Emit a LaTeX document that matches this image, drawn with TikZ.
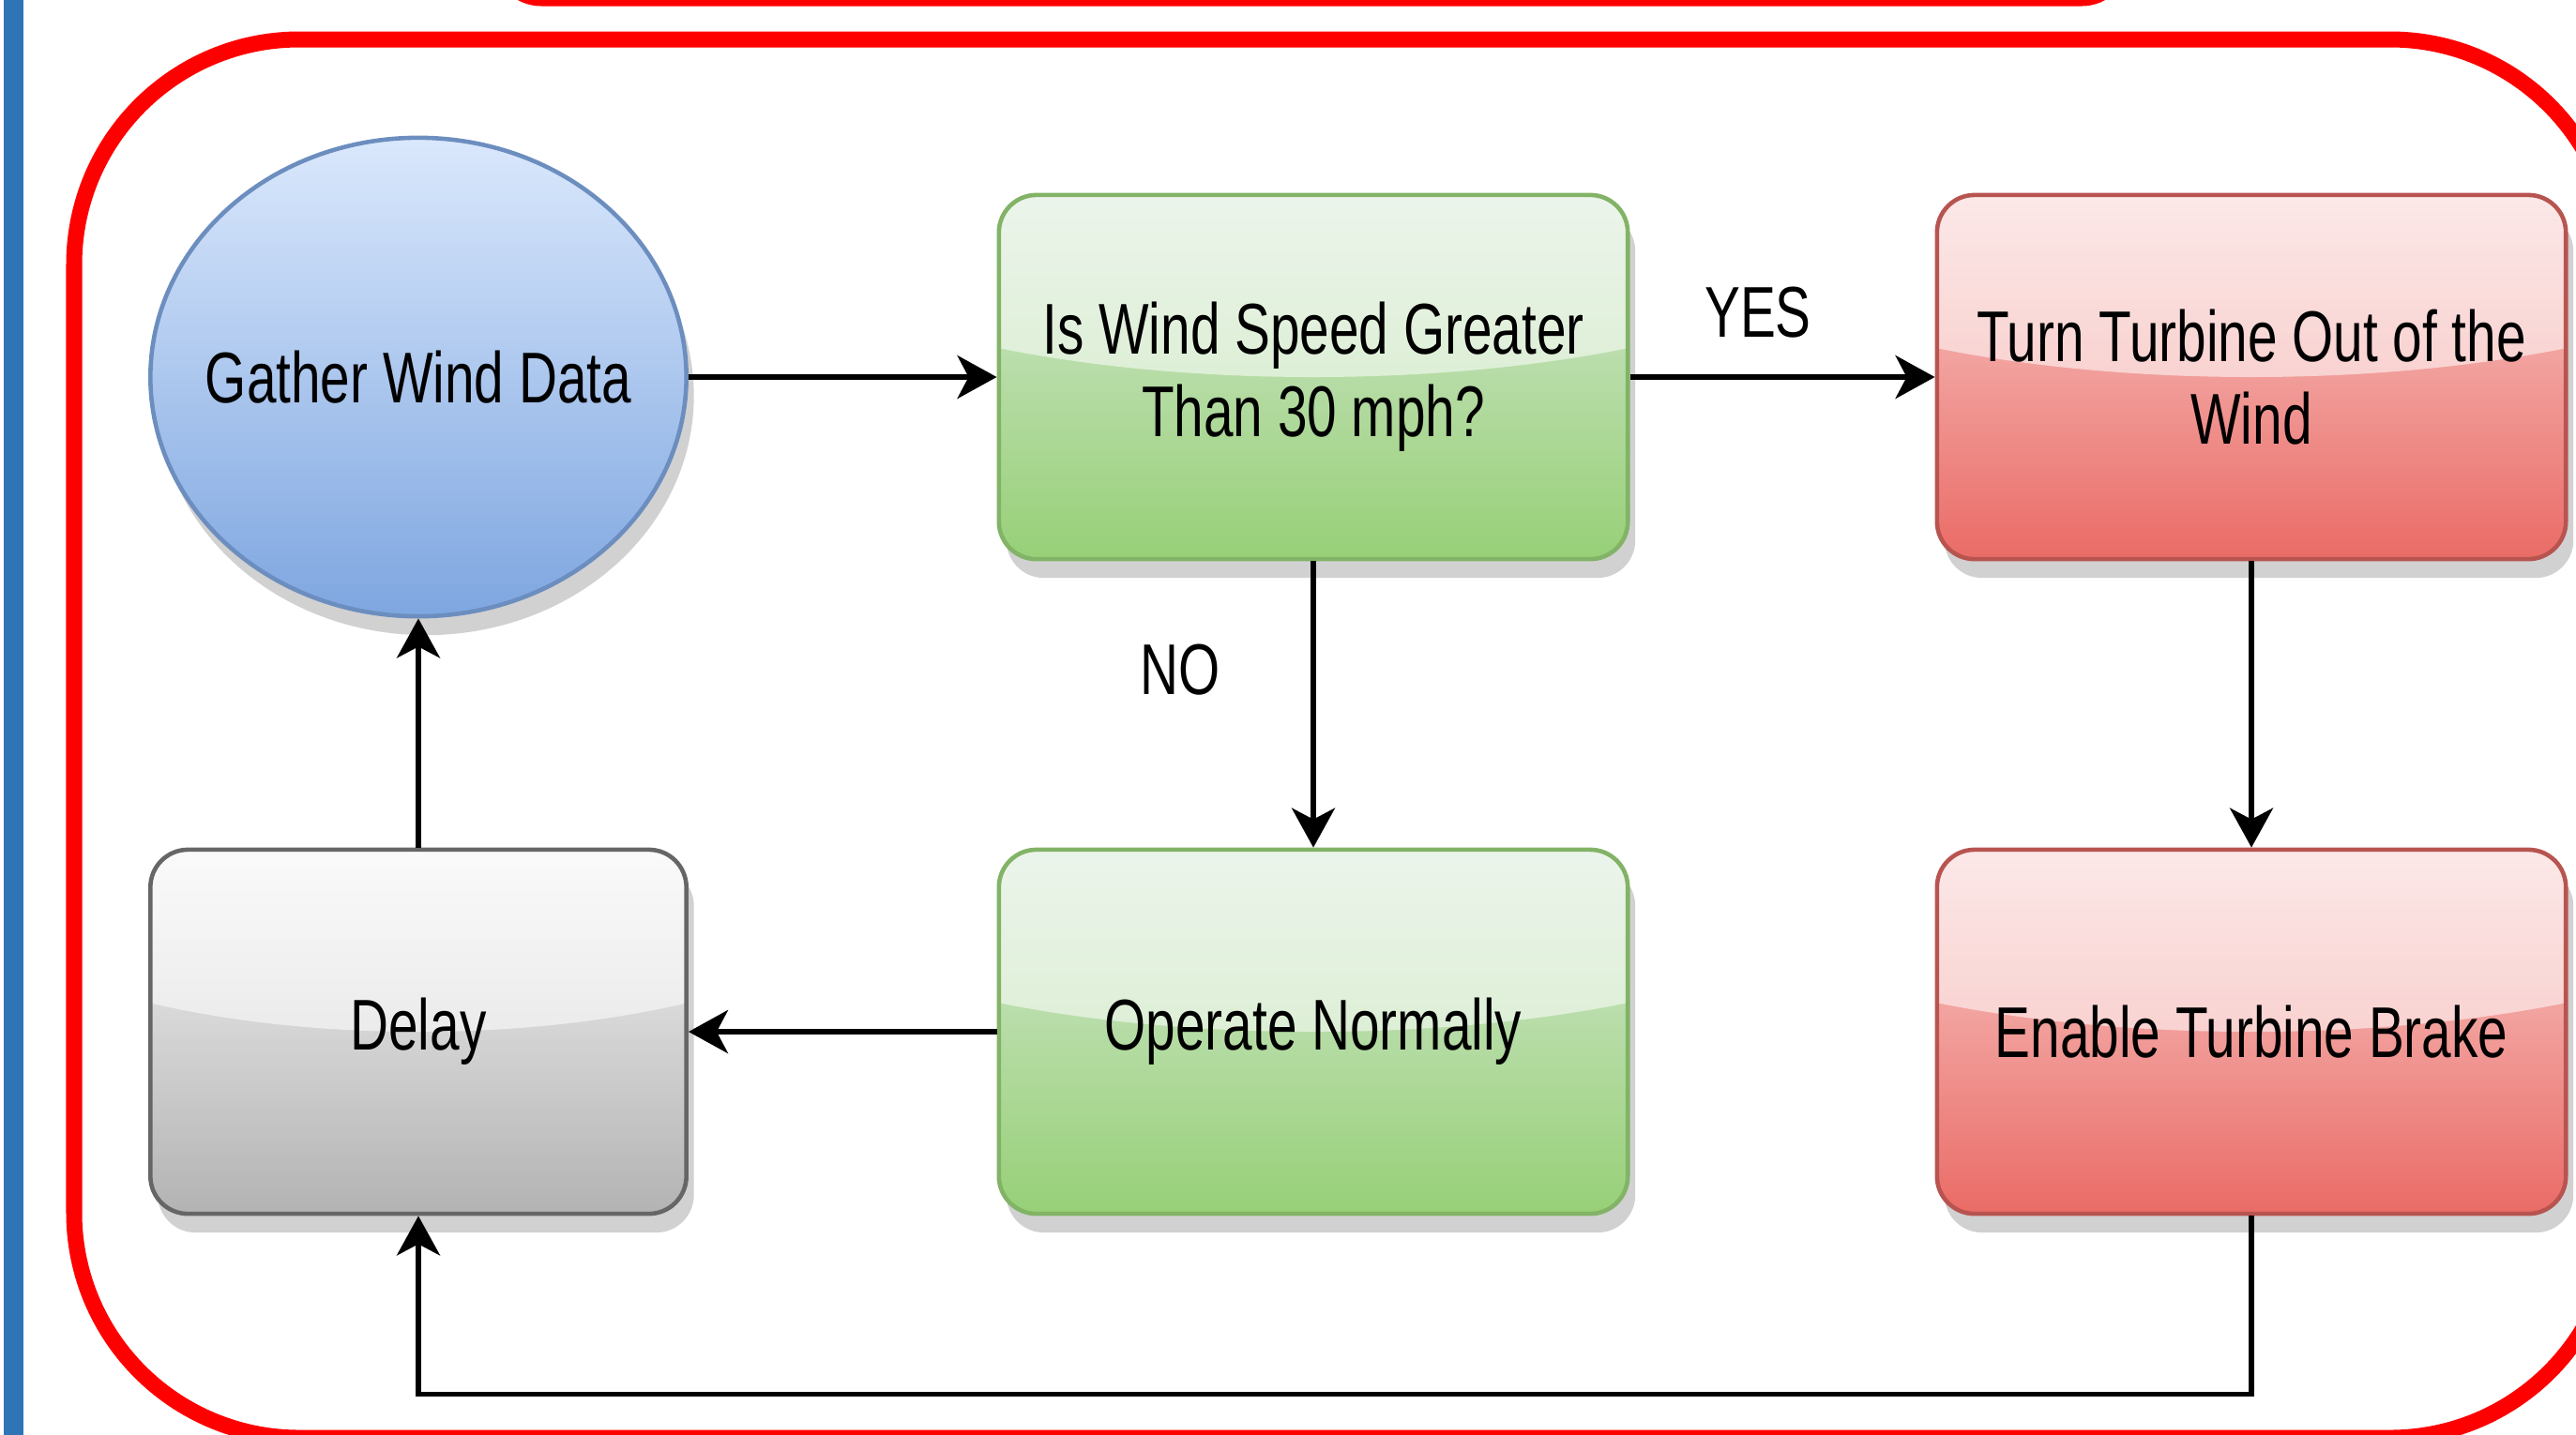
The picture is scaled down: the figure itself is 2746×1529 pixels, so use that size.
\documentclass[tikz,border=0pt]{standalone}
\usepackage{fontspec}
\newfontfamily\flowfont[FakeStretch=0.74]{Liberation Sans}
\usetikzlibrary{positioning, arrows.meta, shapes.geometric, shadows}
\definecolor{barblue}{HTML}{2E75B6}
\definecolor{blueA}{HTML}{DAE8FC}
\definecolor{blueB}{HTML}{7EA6E0}
\definecolor{blueC}{HTML}{6C8EBF}
\definecolor{greenA}{HTML}{D5E8D4}
\definecolor{greenB}{HTML}{97D077}
\definecolor{greenC}{HTML}{82B366}
\definecolor{redA}{HTML}{F8CECC}
\definecolor{redB}{HTML}{EA6B66}
\definecolor{redC}{HTML}{B85450}
\definecolor{grayA}{HTML}{F5F5F5}
\definecolor{grayB}{HTML}{B3B3B3}
\definecolor{grayC}{HTML}{666666}

\begin{document}
\begin{tikzpicture}[
		x=0.01cm, y=-0.01cm,
		line width=1.5pt,
		>={Stealth[length=4.2mm, width=4.6mm, inset=1.2mm]},
		txt/.style={font=\flowfont\fontsize{21.8}{25}\selectfont, align=center},
		shadowed/.style={drop shadow={shadow xshift=0.8mm, shadow yshift=-2mm, fill=black!18, opacity=1}},
		glass/.style={path picture={\fill[white, fill opacity=0.55] (path picture bounding box.north) ellipse [x radius=#1, y radius=19.4mm];}},
		tbox/.style={txt, shadowed, draw, line width=1.3pt, rectangle, rounded corners=4mm, minimum width=6.7cm, minimum height=3.88cm, inner sep=0pt, glass=6.2cm},
		greenbox/.style={tbox, top color=greenA, bottom color=greenB, draw=greenC},
		redbox/.style={tbox, top color=redA, bottom color=redB, draw=redC},
		graybox/.style={tbox, top color=grayA, bottom color=grayB, draw=grayC, minimum width=5.71cm, glass=5.3cm},
		bluenode/.style={txt, shadowed, draw=blueC, line width=1.3pt, ellipse, minimum width=5.71cm, minimum height=5.1cm, inner xsep=-6mm, inner ysep=0pt, top color=blueA, bottom color=blueB},
		frame/.style={draw=red, line width=1.7mm},
	]
	\useasboundingbox (0,0) rectangle (2746,1529);
	\clip (0,0) rectangle (2746,1529);

	% frames
	\fill[barblue] (4,-10) rectangle (25,1540);
	\draw[frame, rounded corners=4.3mm] (534,-300) rectangle (2262,-2);
	\draw[frame, rounded corners=24mm] (79,42) rectangle (2788,1533);

	\node[bluenode] (gather) at (446,402) {Gather Wind Data};
	\node[greenbox] (greater) at (1400,402) {Is Wind Speed Greater\\Than 30 mph?};
	\node[redbox] (turnout) at (2400,402) {Turn Turbine Out of the\\Wind};

	\node[graybox] (delay) at (446,1100) {Delay};
	\node[greenbox] (normal) at (1400,1100) {Operate Normally};
	\node[redbox] (brake) at (2400,1100) {Enable Turbine Brake};

	\draw[->] (gather) -- (greater);
	\draw[->] (greater) -- node[txt, pos=0.42, above=2.7mm] (yes) {YES} (turnout);
	\draw[->] (greater) -- node[txt, pos=0.38, left=8.5mm] (no) {NO} (normal);
	\draw[->] (turnout) -- (brake);
	\draw[->] (normal) -- (delay);
	\draw[->] (delay) -- (gather);
	\draw[->] (brake.south) -- ++(0,190) -| (delay.south);
\end{tikzpicture}
\end{document}
